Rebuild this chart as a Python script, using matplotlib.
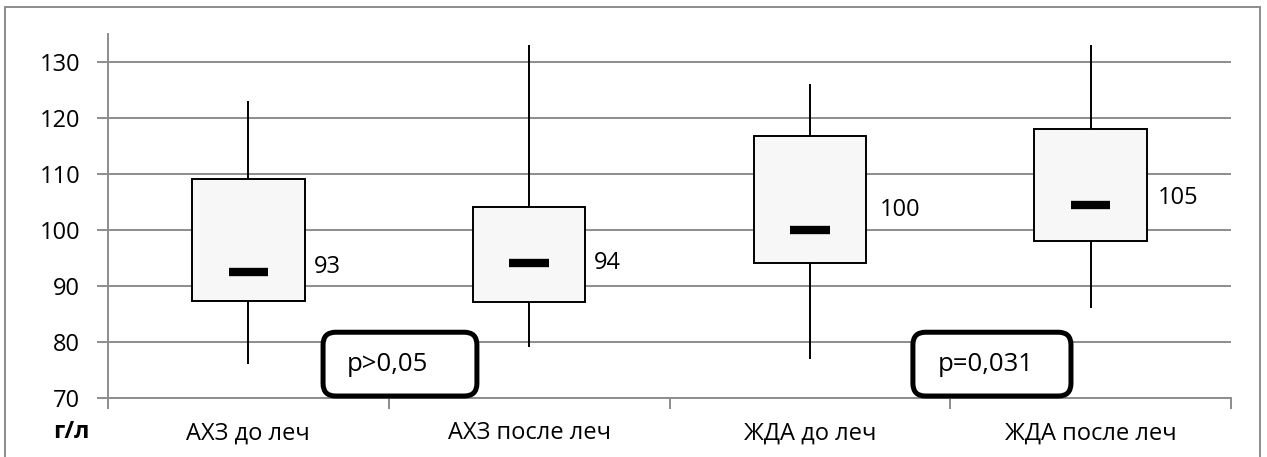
import matplotlib
matplotlib.use("Agg")
import matplotlib.pyplot as plt
from matplotlib.patches import FancyBboxPatch, Rectangle

plt.rcParams['font.family'] = ['Open Sans', 'DejaVu Sans']

categories = ["АХЗ до леч", "АХЗ после леч", "ЖДА до леч", "ЖДА после леч"]
q1 = [87.3, 87.1, 94.0, 98.0]
q3 = [109.0, 104.0, 116.8, 118.0]
median = [92.5, 94.0, 100.0, 104.5]
whislo = [76.0, 79.0, 77.0, 86.0]
whishi = [123.0, 133.0, 126.0, 133.0]
labels = ["93", "94", "100", "105"]
yticks = [70, 80, 90, 100, 110, 120, 130]
pvalues = ["p>0,05", "p=0,031"]

# positions / styles
label_y = [93.4, 94.1, 103.6, 105.7]
label_dx = [6.5, 6.5, 10, 8]
p_box_x = [(0.266, 0.814), (2.367, 2.93)]
p_text_x = [0.351, 2.456]

W, H = 1267, 457
FS = 17
fig = plt.figure(figsize=(W / 100, H / 100), dpi=100)
ax = fig.add_axes([108 / W, 1 - 397.7 / H, (1231 - 108) / W, (397.7 - 34) / H])

grid_c = '#8c8c8c'
x = list(range(len(categories)))
ax.set_xlim(-0.5, 3.5)
ax.set_ylim(70, 135)

ax.set_yticks(yticks)
ax.set_yticklabels([str(v) for v in yticks], fontsize=FS)
for v in yticks:
    ax.axhline(v, color=grid_c, lw=1.4, zorder=0)

ax.set_xticks(x)
ax.set_xticklabels(categories, fontsize=FS)
ax.set_xticks([-0.5, 0.5, 1.5, 2.5, 3.5], minor=True)
ax.tick_params(axis='x', which='major', length=0, pad=17)
ax.tick_params(axis='x', which='minor', length=8, width=1.4, color=grid_c)
ax.tick_params(axis='y', length=8, width=1.4, color=grid_c, pad=12)

for s in ['top', 'right']:
    ax.spines[s].set_visible(False)
for s in ['left', 'bottom']:
    ax.spines[s].set_color(grid_c)
    ax.spines[s].set_linewidth(1.4)

# whiskers
ax.vlines(x, whislo, q1, color='black', lw=1.4, zorder=2)
ax.vlines(x, q3, whishi, color='black', lw=1.4, zorder=2)
# boxes
heights = [b - a for a, b in zip(q1, q3)]
ax.bar(x, heights, bottom=q1, width=0.4, color='#f7f7f7', edgecolor='black',
       linewidth=1.4, zorder=3)
# medians
ax.hlines(median, [i - 0.07 for i in x], [i + 0.07 for i in x], color='black',
          lw=6, zorder=4)
# data labels
for i, (lab, ly, dx) in enumerate(zip(labels, label_y, label_dx)):
    ax.annotate(lab, xy=(i + 0.2, ly), xytext=(dx, 0), textcoords='offset points',
                ha='left', va='center', fontsize=FS, zorder=5)

# p-value boxes
px_per_x = (1231 - 108) / 4.0
px_per_y = (397.7 - 34) / 65.0
aspect = px_per_x / px_per_y
for (x0, x1), tx, txt in zip(p_box_x, p_text_x, pvalues):
    y0, y1 = 70.3, 81.7
    patch = FancyBboxPatch((x0, y0), x1 - x0, y1 - y0,
                           boxstyle="round,pad=0,rounding_size=0.045",
                           mutation_aspect=aspect,
                           facecolor='white', edgecolor='black', lw=3.6,
                           transform=ax.transData, clip_on=False, zorder=6)
    ax.add_patch(patch)
    ax.text(tx, (y0 + y1) / 2, txt, ha='left', va='center', fontsize=18.5, zorder=7)

fig.text(71 / W, 1 - 432 / H, "г/л", ha='center', va='center', fontsize=FS,
         fontweight='bold')

# outer border
fig.add_artist(Rectangle((5 / W, -0.05), (1260 - 5) / W, 1 - 6.5 / H + 0.05,
                         transform=fig.transFigure, fill=False,
                         edgecolor='#8c8c8c', lw=1.4))

fig.savefig("out.png", dpi=100)
